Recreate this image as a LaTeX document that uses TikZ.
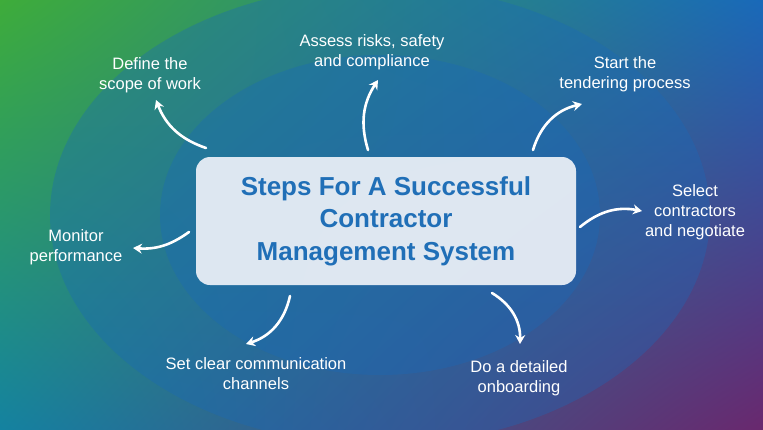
\documentclass[tikz,border=0pt]{standalone}
\usepackage{fontspec}
\setmainfont{Liberation Sans}
\usetikzlibrary{arrows.meta,shadings}
\definecolor{cgreen}{RGB}{62,172,58}
\definecolor{cblue}{RGB}{25,105,185}
\definecolor{cteal}{RGB}{20,130,160}
\definecolor{cpurple}{RGB}{105,40,110}
\definecolor{ctitle}{RGB}{22,105,180}
\definecolor{cbox}{RGB}{232,238,246}
\tikzset{
 lbl/.style={text=white,align=center,font=\fontsize{16.5}{20}\selectfont},
 arr/.style={white,line width=2.6pt,line cap=round,-{Stealth[length=9pt,width=10pt]}}
}
\begin{document}
\begin{tikzpicture}[x=1pt,y=-1pt]
\useasboundingbox (0,0) rectangle (763,429);
\shade[upper left=cgreen,upper right=cblue,lower left=cteal,lower right=cpurple] (0,0) rectangle (763,429);
\shade[inner color=cblue,outer color=cblue,opacity=0.0] (0,0) rectangle (763,429);
\fill[cblue,opacity=0.35] (380,215) ellipse (330 and 230);
\fill[cblue,opacity=0.35] (380,215) ellipse (220 and 160);
\node[draw=none,fill=cbox,fill opacity=0.95,rounded corners=14pt,minimum width=380pt,minimum height=128pt,
 text=ctitle,align=center,font=\bfseries\fontsize{26}{32.5}\selectfont] (c) at (386,221)
 {Steps For A Successful\\Contractor\\Management System};
\node[lbl] (l1) at (150,75) {Define the\\scope of work};
\node[lbl] (l2) at (372,52) {Assess risks, safety\\and compliance};
\node[lbl] (l3) at (625,74) {Start the\\tendering process};
\node[lbl] (l4) at (695,212) {Select\\contractors\\and negotiate};
\node[lbl] (l5) at (76,247) {Monitor\\performance};
\node[lbl] (l6) at (256,374) {Set clear communication\\channels};
\node[lbl] (l7) at (519,378) {Do a detailed\\onboarding};
\coordinate (s1) at (206,148); \coordinate (e1) at (156,100);
\coordinate (s2) at (368,150); \coordinate (e2) at (378,80);
\coordinate (s3) at (533,150); \coordinate (e3) at (582,104);
\coordinate (s4) at (580,227); \coordinate (e4) at (642,211);
\coordinate (s5) at (189,232); \coordinate (e5) at (133,248);
\coordinate (s6) at (290,296); \coordinate (e6) at (246,344);
\coordinate (s7) at (492,293); \coordinate (e7) at (520,344);
\draw[arr] (s1) to[bend left=25] (e1);
\draw[arr] (s2) to[bend left=25] (e2);
\draw[arr] (s3) to[bend left=30] (e3);
\draw[arr] (s4) to[bend left=25] (e4);
\draw[arr] (s5) to[bend left=20] (e5);
\draw[arr] (s6) to[bend left=30] (e6);
\draw[arr] (s7) to[bend left=30] (e7);
\end{tikzpicture}
\end{document}
